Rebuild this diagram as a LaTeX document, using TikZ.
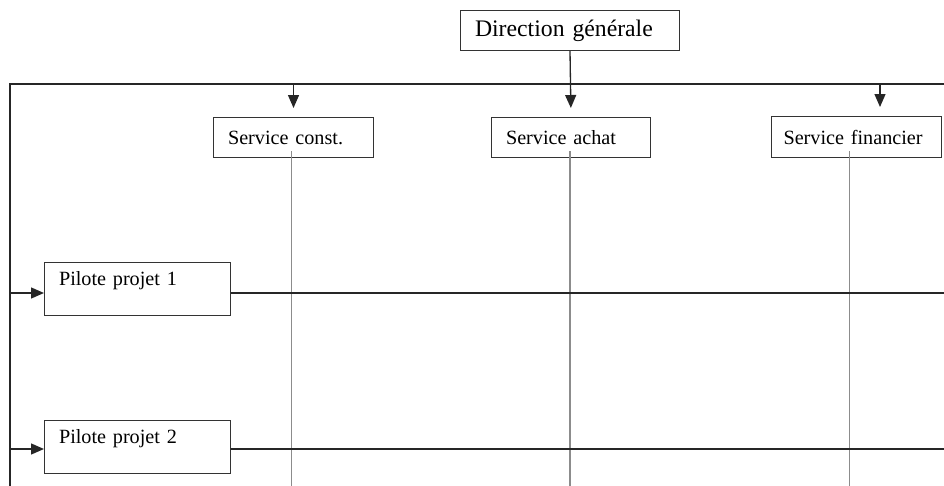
\documentclass[tikz,border=0pt]{standalone}
\usepackage{fontspec}
\setmainfont{Liberation Serif}
\usetikzlibrary{arrows.meta,positioning}

\begin{document}
\begin{tikzpicture}[
            x=0.02cm,
            y=-0.02cm,
            frame/.style={draw=black!85, line width=0.75pt},
            arrow/.style={frame, -{Triangle[length=0.26cm,width=0.22cm]}},
            track/.style={draw=black!45, line width=0.6pt},
            box/.style={draw=black!80, line width=0.6pt, anchor=north west, align=left,
                inner xsep=0.29cm, minimum height=0.8cm, font=\fontsize{11.5}{13}\selectfont},
            pilot/.style={box, inner ysep=0.15cm, text height=0.3cm, text depth=0.46cm, minimum height=0pt},
        ]
        \useasboundingbox (0,0) rectangle (944,486);
        % frame
        \coordinate (tl) at (10,84);
        \coordinate (tr) at (944,84);
        \coordinate (bl) at (10,486);
        \draw[frame] (tr) -- (tl) -- (bl);
        % top management and services
        \node[box, text width=3.8cm, minimum height=0.8cm, font=\fontsize{13.5}{15}\selectfont] (dg) at (460,10) {Direction générale};
        \node[box, text width=2.62cm] (sc) at (213,117) {Service const.};
        \node[box, text width=2.6cm] (sa) at (491,117) {Service achat};
        \node[box, inner xsep=0.24cm, text width=2.92cm, minimum height=0.82cm] (sf) at (771,116) {Service financier};
        \draw[arrow, shorten >=0.18cm] (sc.north |- tl) -- (sc.north);
        \draw[arrow, shorten >=0.18cm] (dg.south) -- (sa.north);
        \coordinate (k3) at (880,84);
        \draw[arrow, shorten >=0.18cm] (k3) -- (k3 |- sf.north);
        % service tracks
        \coordinate (t1) at ([shift={(-2,-7)}]sc.south);
        \coordinate (t2) at ([shift={(-1,-7)}]sa.south);
        \coordinate (t3) at ([shift={(-7,-7)}]sf.south);
        \foreach \t in {t1,t2,t3}
            \draw[track] (\t) -- (\t |- bl);
        % project pilots
        \node[pilot, text width=3.14cm] (p1) at (44,262) {Pilote projet 1};
        \node[pilot, text width=3.14cm] (p2) at (44,420) {Pilote projet 2};
        \coordinate (a1) at (10,293);
        \coordinate (a2) at (10,449);
        \draw[arrow] (a1) -- (a1 -| p1.west);
        \draw[arrow] (a2) -- (a2 -| p2.west);
        \draw[draw=black!85, line width=0.6pt] (a1 -| p1.east) -- (a1 -| tr);
        \draw[draw=black!85, line width=0.6pt] (a2 -| p2.east) -- (a2 -| tr);
\end{tikzpicture}
\end{document}
